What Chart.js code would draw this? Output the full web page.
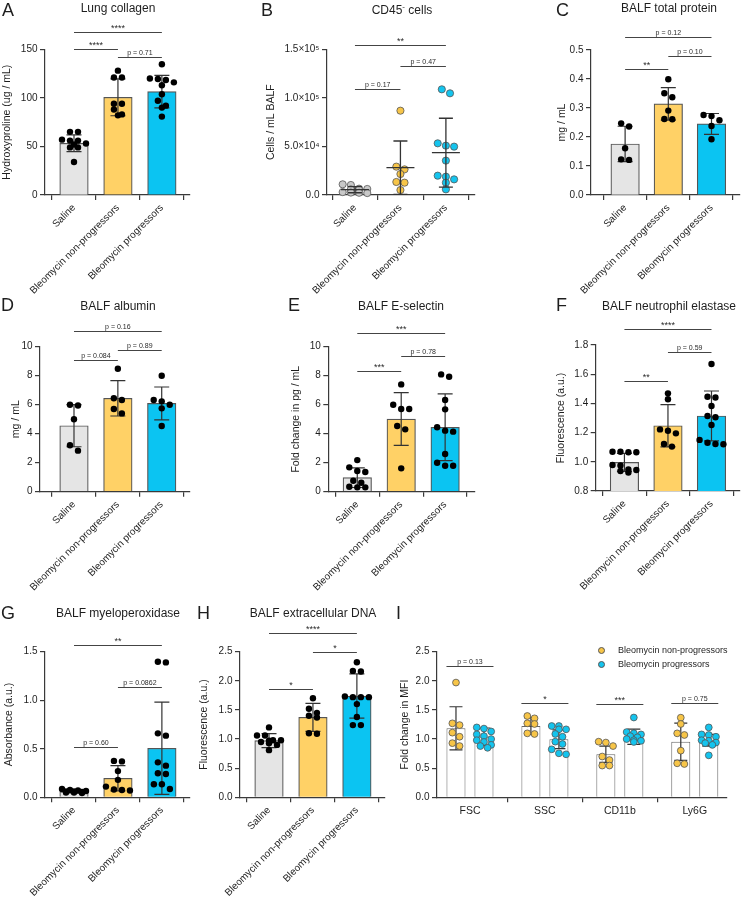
<!DOCTYPE html>
<html><head><meta charset="utf-8">
<script src="https://cdn.jsdelivr.net/npm/chart.js@4.4.1/dist/chart.umd.min.js"></script>
<style>
html,body{margin:0;padding:0;background:#fff;}
#wrap{position:relative;width:744px;height:900px;overflow:hidden;font-family:'Liberation Sans',Arial,sans-serif;color:#1e1e1e;}
canvas{position:absolute;left:0;top:0;}
.lt{position:absolute;font-size:18px;line-height:20px;white-space:nowrap;}
.tt{position:absolute;font-size:12px;line-height:14px;white-space:nowrap;transform:translateX(-50%);}
.tt sup{font-size:8px;line-height:0;vertical-align:5px;}
.lg{position:absolute;font-size:9px;line-height:11px;white-space:nowrap;}
.dot{position:absolute;width:7px;height:7px;border-radius:50%;border:0.8px solid #555;box-sizing:border-box;}
</style></head><body>
<div id="wrap">
<canvas id="cA" width="744" height="900"></canvas>
<canvas id="cB" width="744" height="900"></canvas>
<canvas id="cC" width="744" height="900"></canvas>
<canvas id="cD" width="744" height="900"></canvas>
<canvas id="cE" width="744" height="900"></canvas>
<canvas id="cF" width="744" height="900"></canvas>
<canvas id="cG" width="744" height="900"></canvas>
<canvas id="cH" width="744" height="900"></canvas>
<canvas id="cI" width="744" height="900"></canvas>

<div class="lt" style="left:2px;top:0px">A</div>
<div class="lt" style="left:261px;top:0px">B</div>
<div class="lt" style="left:556px;top:0px">C</div>
<div class="lt" style="left:1px;top:295px">D</div>
<div class="lt" style="left:288px;top:295px">E</div>
<div class="lt" style="left:556px;top:295px">F</div>
<div class="lt" style="left:1px;top:603px">G</div>
<div class="lt" style="left:197px;top:603px">H</div>
<div class="lt" style="left:396px;top:603px">I</div>

<div class="tt" style="left:118px;top:1px">Lung collagen</div>
<div class="tt" style="left:402px;top:3px">CD45<sup>-</sup> cells</div>
<div class="tt" style="left:669px;top:1px">BALF total protein</div>
<div class="tt" style="left:118px;top:299px">BALF albumin</div>
<div class="tt" style="left:401px;top:299px">BALF E-selectin</div>
<div class="tt" style="left:669px;top:299px">BALF neutrophil elastase</div>
<div class="tt" style="left:118px;top:606px">BALF myeloperoxidase</div>
<div class="tt" style="left:313px;top:606px">BALF extracellular DNA</div>

<div class="dot" style="left:597.5px;top:646.5px;background:#f7c548"></div>
<div class="lg" style="left:618px;top:644.5px">Bleomycin non-progressors</div>
<div class="dot" style="left:597.5px;top:660.5px;background:#14c4ee"></div>
<div class="lg" style="left:618px;top:658.5px">Bleomycin progressors</div>
</div>

<script>
// ---------------- DATA ----------------
const groups = ['Saline', 'Bleomycin non-progressors', 'Bleomycin progressors'];
const mfiMarkers = ['FSC', 'SSC', 'CD11b', 'Ly6G'];
const seriesNames = ['Bleomycin non-progressors', 'Bleomycin progressors'];

// A Lung collagen (ug/mL)
const collagenSaline = [65, 65, 57, 56, 56, 53, 52, 49, 49, 34];
const collagenNonProg = [128, 121, 121, 94, 94, 88, 83, 82];
const collagenProg = [134.6, 120, 119.5, 118.4, 116, 113, 103.7, 97, 92, 90, 80.7];
const collagenMean = [53.2, 100.6, 106.4];
const collagenSD = [8.6, 19, 16.7];
const collagenTicks = [0, 50, 100, 150];
const collagenTickLabels = ['0', '50', '100', '150'];

// B CD45- cells (cells / mL BALF)
const cd45Saline = [11000, 10300, 6500, 6200, 5800, 5500, 3000, 2500, 2300, 2000];
const cd45NonProg = [86800, 29200, 26400, 21600, 13400, 12700, 5100];
const cd45Prog = [108800, 104700, 53200, 50800, 49800, 35400, 19900, 18900, 16100, 12700, 5800];
const cd45Mean = [5500, 28100, 43600];
const cd45SD = [3200, 27500, 35400];
const cd45Ticks = [0, 50000, 100000, 150000];
const cd45TickLabels = ['0.0', '5.0×10⁴', '1.0×10⁵', '1.5×10⁵'];

// C BALF total protein (mg/mL)
const proteinSaline = [0.247, 0.236, 0.161, 0.123, 0.121];
const proteinNonProg = [0.399, 0.351, 0.337, 0.291, 0.262, 0.261];
const proteinProg = [0.276, 0.272, 0.258, 0.238, 0.192];
const proteinMean = [0.176, 0.314, 0.245];
const proteinSD = [0.061, 0.056, 0.036];
const proteinTicks = [0, 0.1, 0.2, 0.3, 0.4, 0.5];
const proteinTickLabels = ['0.0', '0.1', '0.2', '0.3', '0.4', '0.5'];

// D BALF albumin (mg/mL)
const albuminSaline = [6.0, 5.95, 5.0, 3.2, 2.83];
const albuminNonProg = [8.48, 6.44, 6.32, 5.7, 5.4];
const albuminProg = [8.0, 6.32, 6.23, 6.0, 5.75, 4.53];
const albuminMean = [4.55, 6.44, 6.09];
const albuminSD = [1.45, 1.22, 1.13];
const albuminTicks = [0, 2, 4, 6, 8, 10];
const albuminTickLabels = ['0', '2', '4', '6', '8', '10'];

// E BALF E-selectin (fold change)
const eselSaline = [2.18, 1.68, 1.43, 1.36, 0.76, 0.62, 0.34, 0.3, 0.3];
const eselNonProg = [7.4, 6.0, 5.7, 5.7, 4.53, 4.3, 1.61];
const eselProg = [8.09, 7.93, 6.32, 5.68, 4.44, 4.21, 4.14, 2.6, 2.0, 1.79, 1.79];
const eselMean = [0.97, 5.01, 4.44];
const eselSD = [0.68, 1.82, 2.3];
const eselTicks = [0, 2, 4, 6, 8, 10];
const eselTickLabels = ['0', '2', '4', '6', '8', '10'];

// F BALF neutrophil elastase (a.u.)
const elastaseSaline = [1.069, 1.069, 1.065, 1.065, 0.978, 0.975, 0.948, 0.944, 0.937, 0.926];
const elastaseNonProg = [1.469, 1.428, 1.222, 1.213, 1.195, 1.122, 1.104];
const elastaseProg = [1.67, 1.446, 1.44, 1.382, 1.314, 1.305, 1.252, 1.15, 1.13, 1.122, 1.12];
const elastaseMean = [0.996, 1.247, 1.314];
const elastaseSD = [0.062, 0.145, 0.171];
const elastaseTicks = [0.8, 1.0, 1.2, 1.4, 1.6, 1.8];
const elastaseTickLabels = ['0.8', '1.0', '1.2', '1.4', '1.6', '1.8'];

// G BALF myeloperoxidase (a.u.)
const mpoSaline = [0.085, 0.075, 0.07, 0.065, 0.06, 0.06, 0.055, 0.05, 0.05, 0.045];
const mpoNonProg = [0.375, 0.37, 0.27, 0.18, 0.11, 0.08, 0.075, 0.07];
const mpoProg = [1.397, 1.39, 0.659, 0.635, 0.36, 0.326, 0.247, 0.24, 0.134, 0.134, 0.086];
const mpoMean = [0.058, 0.196, 0.505];
const mpoSD = [0.012, 0.13, 0.475];
const mpoTicks = [0, 0.5, 1.0, 1.5];
const mpoTickLabels = ['0.0', '0.5', '1.0', '1.5'];

// H BALF extracellular DNA (a.u.)
const dnaSaline = [1.2, 1.06, 1.06, 0.98, 0.98, 0.97, 0.95, 0.93, 0.9, 0.81];
const dnaNonProg = [1.7, 1.52, 1.45, 1.4, 1.37, 1.1, 1.09];
const dnaProg = [2.32, 2.17, 2.16, 1.73, 1.72, 1.72, 1.72, 1.6, 1.38, 1.24, 1.24];
const dnaMean = [0.973, 1.373, 1.739];
const dnaSD = [0.12, 0.24, 0.38];
const foldTicks = [0, 0.5, 1.0, 1.5, 2.0, 2.5];
const foldTickLabels = ['0.0', '0.5', '1.0', '1.5', '2.0', '2.5'];

// I Fold change in MFI
const mfiNonProgFSC = [1.97, 1.27, 1.24, 1.11, 1.04, 0.93, 0.88];
const mfiProgFSC = [1.2, 1.18, 1.13, 1.08, 1.05, 1.0, 0.98, 0.95, 0.9, 0.88, 0.85];
const mfiNonProgSSC = [1.396, 1.356, 1.27, 1.259, 1.098, 1.087];
const mfiProgSSC = [1.224, 1.224, 1.167, 1.167, 1.087, 1.04, 0.955, 0.915, 0.824, 0.755, 0.738];
const mfiNonProgCD11b = [0.955, 0.94, 0.88, 0.70, 0.64, 0.545, 0.545];
const mfiProgCD11b = [1.37, 1.12, 1.1, 1.08, 1.05, 1.03, 1.0, 0.98, 0.97, 0.95];
const mfiNonProgLy6G = [1.367, 1.259, 1.098, 1.07, 0.801, 0.584, 0.572];
const mfiProgLy6G = [1.2, 1.08, 1.07, 1.04, 0.98, 0.97, 0.94, 0.93, 0.9, 0.72];
const mfiNonProgMean = [1.185, 1.224, 0.738, 0.955];
const mfiNonProgSD = [0.37, 0.143, 0.14, 0.32];
const mfiProgMean = [1.04, 0.996, 1.04, 0.98];
const mfiProgSD = [0.15, 0.16, 0.13, 0.1];

// significance brackets [from group, to group, height (data units), label]
const collagenSig = [[0, 2, 167.5, '****'], [0, 1, 150, '****'], [1, 2, 141.8, 'p = 0.71']];
const cd45Sig = [[0, 2, 154000, '**'], [1, 2, 132500, 'p = 0.47'], [0, 1, 108900, 'p = 0.17']];
const proteinSig = [[0, 2, 0.545, 'p = 0.12'], [1, 2, 0.479, 'p = 0.10'], [0, 1, 0.434, '**']];
const albuminSig = [[0, 2, 11.08, 'p = 0.16'], [1, 2, 9.77, 'p = 0.89'], [0, 1, 9.08, 'p = 0.084']];
const eselSig = [[0, 2, 10.92, '***'], [1, 2, 9.38, 'p = 0.78'], [0, 1, 8.34, '***']];
const elastaseSig = [[0, 2, 1.91, '****'], [1, 2, 1.75, 'p = 0.59'], [0, 1, 1.556, '**']];
const mpoSig = [[0, 2, 1.569, '**'], [1, 2, 1.14, 'p = 0.0862'], [0, 1, 0.515, 'p = 0.60']];
const dnaSig = [[0, 2, 2.815, '****'], [1, 2, 2.49, '*'], [0, 1, 1.854, '*']];
// [marker group, height, label]
const mfiSig = [[0, 2.254, 'p = 0.13'], [1, 1.625, '*'], [2, 1.61, '***'], [3, 1.625, 'p = 0.75']];

// ---------------- STYLE / LAYOUT ----------------
const FONT = "'Liberation Sans', Arial, sans-serif";
const AXIS = '#3a3a3a', TXT = '#1e1e1e', EDGE = '#555555', ERR = '#333333';
const GRAY = '#e5e5e5', YEL = '#ffd166', CYN = '#0bc4f2';
const DOT_GRAY = '#c8c8c8', DOT_YEL = '#f7c548', DOT_CYN = '#14c4ee';
Chart.defaults.font.family = FONT;

const LAYOUT = {
  A: {l: 45, r: 190, t: 49.3, b: 195, titleX: 7.5, xMin: -0.66, xMax: 2.64},
  B: {l: 327, r: 475, t: 49.3, b: 195, titleX: 271, xMin: -0.615, xMax: 2.64},
  C: {l: 591, r: 741, t: 50, b: 195, titleX: 562, xMin: -0.79, xMax: 2.66},
  D: {l: 40, r: 190, t: 346.7, b: 491.7, titleX: 16.5, xMin: -0.775, xMax: 2.645},
  E: {l: 328.3, r: 475, t: 346.7, b: 491.7, titleX: 296, xMin: -0.66, xMax: 2.68},
  F: {l: 595.7, r: 741, t: 345, b: 491, titleX: 561, xMin: -0.66, xMax: 2.655},
  G: {l: 45, r: 190, t: 651.7, b: 797.3, titleX: 9.5, xMin: -0.66, xMax: 2.64},
  H: {l: 240, r: 385, t: 651.7, b: 797.3, titleX: 204, xMin: -0.66, xMax: 2.64},
  I: {l: 437, r: 727, t: 651.7, b: 797.3, titleX: 405, xMin: -0.44, xMax: 3.43}
};

// GraphPad-like spreading: values within one row height share a row (max maxN per row,
// overflow goes to interleaved sub-rows) and are spread symmetrically around the centre
function spread(values, center, L, yMin, yMax, rowH, sp, maxN) {
  const pxX = (L.r - L.l) / (L.xMax - L.xMin);
  const pxY = (L.b - L.t) / (yMax - yMin);
  const order = values.map((v, i) => i).sort((a, b) => values[b] - values[a]);
  const clusters = [];
  order.forEach(i => {
    const py = (values[i] - yMin) * pxY;
    const last = clusters[clusters.length - 1];
    if (last && last.top - py < rowH) last.idx.push(i);
    else clusters.push({top: py, idx: [i]});
  });
  const pts = new Array(values.length);
  clusters.forEach(c => {
    const rest = c.idx.slice();
    let k = 0;
    while (rest.length) {
      const cap = k % 2 === 0 ? maxN : maxN - 1;
      const row = rest.splice(0, Math.min(cap, rest.length));
      k++;
      row.forEach((i, j) => {
        const off = (j - (row.length - 1) / 2) * sp;
        pts[i] = {x: center + off / pxX, y: values[i]};
      });
    }
  });
  return pts;
}

const deco = {
  id: 'deco',
  afterDatasetDraw(chart, args) {
    const ds = chart.data.datasets[args.index];
    if (!ds.sd) return;
    const ys = chart.scales.y, ctx = chart.ctx;
    const hw = ds.capHalf || 7.5;
    ctx.save();
    ctx.strokeStyle = ERR; ctx.lineWidth = 1.2;
    args.meta.data.forEach((el, i) => {
      const m = ds.data[i].y, s = ds.sd[i];
      const yt = ys.getPixelForValue(m + s), yb = ys.getPixelForValue(Math.max(m - s, ys.min));
      ctx.beginPath();
      ctx.moveTo(el.x, yt); ctx.lineTo(el.x, yb);
      ctx.moveTo(el.x - hw, yt); ctx.lineTo(el.x + hw, yt);
      ctx.moveTo(el.x - hw, yb); ctx.lineTo(el.x + hw, yb);
      ctx.stroke();
    });
    ctx.restore();
  },
  afterDatasetsDraw(chart, args, opts) {
    if (!opts.means) return;
    const {m, s} = opts.means;
    const xs = chart.scales.x, ys = chart.scales.y, ctx = chart.ctx;
    ctx.save();
    ctx.strokeStyle = ERR; ctx.lineWidth = 1.3;
    m.forEach((mv, i) => {
      const x = xs.getPixelForValue(i);
      const ym = ys.getPixelForValue(mv), yt = ys.getPixelForValue(mv + s[i]), yb = ys.getPixelForValue(Math.max(mv - s[i], 0));
      ctx.beginPath();
      ctx.moveTo(x - 14, ym); ctx.lineTo(x + 14, ym);
      ctx.moveTo(x, yt); ctx.lineTo(x, yb);
      ctx.moveTo(x - 7, yt); ctx.lineTo(x + 7, yt);
      ctx.moveTo(x - 7, yb); ctx.lineTo(x + 7, yb);
      ctx.stroke();
    });
    ctx.restore();
  },
  afterDraw(chart, args, opts) {
    const br = opts.brackets || [];
    const xs = chart.scales.x, ys = chart.scales.y, ctx = chart.ctx;
    ctx.save();
    ctx.strokeStyle = '#444'; ctx.lineWidth = 1; ctx.fillStyle = '#2a2a2a'; ctx.textAlign = 'center';
    br.forEach(b => {
      let x1, x2, yv, t;
      if (opts.grouped) {
        const e0 = chart.getDatasetMeta(0).data[b[0]], e1 = chart.getDatasetMeta(1).data[b[0]];
        x1 = e0.x - e0.width / 2; x2 = e1.x + e1.width / 2; yv = b[1]; t = b[2];
      } else {
        x1 = xs.getPixelForValue(b[0]); x2 = xs.getPixelForValue(b[1]); yv = b[2]; t = b[3];
      }
      const y = Math.round(ys.getPixelForValue(yv)) + 0.5;
      ctx.beginPath(); ctx.moveTo(x1, y); ctx.lineTo(x2, y); ctx.stroke();
      const star = t.indexOf('*') === 0;
      ctx.font = (star ? '9px ' : '7px ') + FONT;
      ctx.fillText(t, (x1 + x2) / 2, y - (star ? 1.5 : 3));
    });
    ctx.restore();
  }
};

function makeChart(id, L, cfg) {
  const lh = 10.5 * 1.2;
  const padLeft = L.titleX - lh / 2;
  const xH = 100;
  const yT = cfg.yTicks;
  return new Chart(document.getElementById(id), {
    type: 'bar',
    data: {datasets: cfg.datasets},
    options: {
      responsive: false, animation: false, events: [],
      layout: {padding: {left: padLeft, top: L.t, right: 744 - L.r, bottom: Math.max(0, 900 - L.b - xH)}},
      plugins: {
        legend: {display: false}, tooltip: {enabled: false},
        deco: {brackets: cfg.brackets, means: cfg.means || null, grouped: !!cfg.grouped}
      },
      scales: {
        x: {
          type: 'linear', min: L.xMin, max: L.xMax, bounds: 'data', offset: false,
          afterBuildTicks: s => { s.ticks = cfg.xTicks.map(v => ({value: v})); },
          afterFit: s => { s.height = Math.min(xH, 900 - L.b); },
          border: {display: true, color: AXIS, width: 1.2},
          grid: {display: true, drawOnChartArea: false, drawTicks: true, tickLength: 5, color: AXIS, lineWidth: 1.2},
          ticks: {
            autoSkip: false, minRotation: cfg.rot, maxRotation: cfg.rot, padding: cfg.rot ? 2 : 3,
            color: TXT, font: {family: FONT, size: cfg.rot ? 10 : 10.5},
            callback: (v, i) => cfg.xLabels[i]
          }
        },
        y: {
          type: 'linear', min: yT[0], max: yT[yT.length - 1], bounds: 'data',
          afterBuildTicks: s => { s.ticks = yT.map(v => ({value: v})); },
          afterFit: s => { s.width = L.l - padLeft; },
          border: {display: true, color: AXIS, width: 1.2},
          grid: {display: true, drawOnChartArea: false, drawTicks: true, tickLength: 5, color: AXIS, lineWidth: 1.2},
          ticks: {padding: 2.5, color: TXT, font: {family: FONT, size: 10}, callback: (v, i) => cfg.yLabels[i]},
          title: {display: true, text: cfg.yTitle, color: TXT, font: {family: FONT, size: 10.5}, padding: 0}
        }
      }
    },
    plugins: [deco]
  });
}

function barPanel(id, L, vals, mean, sd, yTicks, yLabels, yTitle, sig) {
  const yMin = yTicks[0], yMax = yTicks[yTicks.length - 1];
  const datasets = [{
    type: 'bar', data: mean.map((m, i) => ({x: i, y: m})), sd: sd,
    backgroundColor: [GRAY, YEL, CYN], borderColor: EDGE, borderWidth: 1.2,
    barThickness: 28.5, order: 3
  }];
  vals.forEach((v, i) => datasets.push({
    type: 'scatter', data: spread(v, i, L, yMin, yMax, 5.5, 8, 4),
    pointRadius: 3.2, pointBackgroundColor: '#000', pointBorderWidth: 0, order: 1, clip: false
  }));
  makeChart(id, L, {datasets, xTicks: [0, 1, 2], xLabels: groups, rot: 45,
    yTicks, yLabels, yTitle, brackets: sig});
}

barPanel('cA', LAYOUT.A, [collagenSaline, collagenNonProg, collagenProg], collagenMean, collagenSD,
  collagenTicks, collagenTickLabels, 'Hydroxyproline (ug / mL)', collagenSig);
barPanel('cC', LAYOUT.C, [proteinSaline, proteinNonProg, proteinProg], proteinMean, proteinSD,
  proteinTicks, proteinTickLabels, 'mg / mL', proteinSig);
barPanel('cD', LAYOUT.D, [albuminSaline, albuminNonProg, albuminProg], albuminMean, albuminSD,
  albuminTicks, albuminTickLabels, 'mg / mL', albuminSig);
barPanel('cE', LAYOUT.E, [eselSaline, eselNonProg, eselProg], eselMean, eselSD,
  eselTicks, eselTickLabels, 'Fold change in pg / mL', eselSig);
barPanel('cF', LAYOUT.F, [elastaseSaline, elastaseNonProg, elastaseProg], elastaseMean, elastaseSD,
  elastaseTicks, elastaseTickLabels, 'Fluorescence (a.u.)', elastaseSig);
barPanel('cG', LAYOUT.G, [mpoSaline, mpoNonProg, mpoProg], mpoMean, mpoSD,
  mpoTicks, mpoTickLabels, 'Absorbance (a.u.)', mpoSig);
barPanel('cH', LAYOUT.H, [dnaSaline, dnaNonProg, dnaProg], dnaMean, dnaSD,
  foldTicks, foldTickLabels, 'Fluorescence (a.u.)', dnaSig);

// B: scatter with mean +/- SD
(function () {
  const L = LAYOUT.B;
  const yMin = cd45Ticks[0], yMax = cd45Ticks[cd45Ticks.length - 1];
  const cols = [DOT_GRAY, DOT_YEL, DOT_CYN];
  const datasets = [cd45Saline, cd45NonProg, cd45Prog].map((v, i) => ({
    type: 'scatter', data: spread(v, i, L, yMin, yMax, 6, 8.2, 4),
    pointRadius: 3.6, pointBackgroundColor: cols[i], pointBorderColor: '#555', pointBorderWidth: 0.8,
    order: 1, clip: false
  }));
  makeChart('cB', L, {datasets, xTicks: [0, 1, 2], xLabels: groups, rot: 45,
    yTicks: cd45Ticks, yLabels: cd45TickLabels, yTitle: 'Cells / mL BALF', brackets: cd45Sig,
    means: {m: cd45Mean, s: cd45SD}});
})();

// I: grouped bars with dots
(function () {
  const L = LAYOUT.I;
  const yMin = foldTicks[0], yMax = foldTicks[foldTicks.length - 1];
  const catPct = 0.747, barPct = 0.68;
  const npVals = [mfiNonProgFSC, mfiNonProgSSC, mfiNonProgCD11b, mfiNonProgLy6G];
  const pVals = [mfiProgFSC, mfiProgSSC, mfiProgCD11b, mfiProgLy6G];
  const datasets = [
    {type: 'bar', label: seriesNames[0], data: mfiNonProgMean.map((m, i) => ({x: i, y: m})), sd: mfiNonProgSD, capHalf: 6.5,
      backgroundColor: '#fff', borderColor: '#666', borderWidth: 1, categoryPercentage: catPct, barPercentage: barPct, order: 3},
    {type: 'bar', label: seriesNames[1], data: mfiProgMean.map((m, i) => ({x: i, y: m})), sd: mfiProgSD, capHalf: 6.5,
      backgroundColor: '#fff', borderColor: '#666', borderWidth: 1, categoryPercentage: catPct, barPercentage: barPct, order: 3}
  ];
  npVals.forEach((v, g) => datasets.push({
    type: 'scatter', data: spread(v, g - catPct / 4, L, yMin, yMax, 5.5, 7.2, 3),
    pointRadius: 3.4, pointBackgroundColor: DOT_YEL, pointBorderColor: '#555', pointBorderWidth: 0.8, order: 1, clip: false
  }));
  pVals.forEach((v, g) => datasets.push({
    type: 'scatter', data: spread(v, g + catPct / 4, L, yMin, yMax, 5.5, 7.2, 3),
    pointRadius: 3.4, pointBackgroundColor: DOT_CYN, pointBorderColor: '#555', pointBorderWidth: 0.8, order: 1, clip: false
  }));
  makeChart('cI', L, {datasets, xTicks: [0, 1, 2, 3], xLabels: mfiMarkers, rot: 0,
    yTicks: foldTicks, yLabels: foldTickLabels, yTitle: 'Fold change in MFI', brackets: mfiSig, grouped: true});
})();
</script>
</body></html>
